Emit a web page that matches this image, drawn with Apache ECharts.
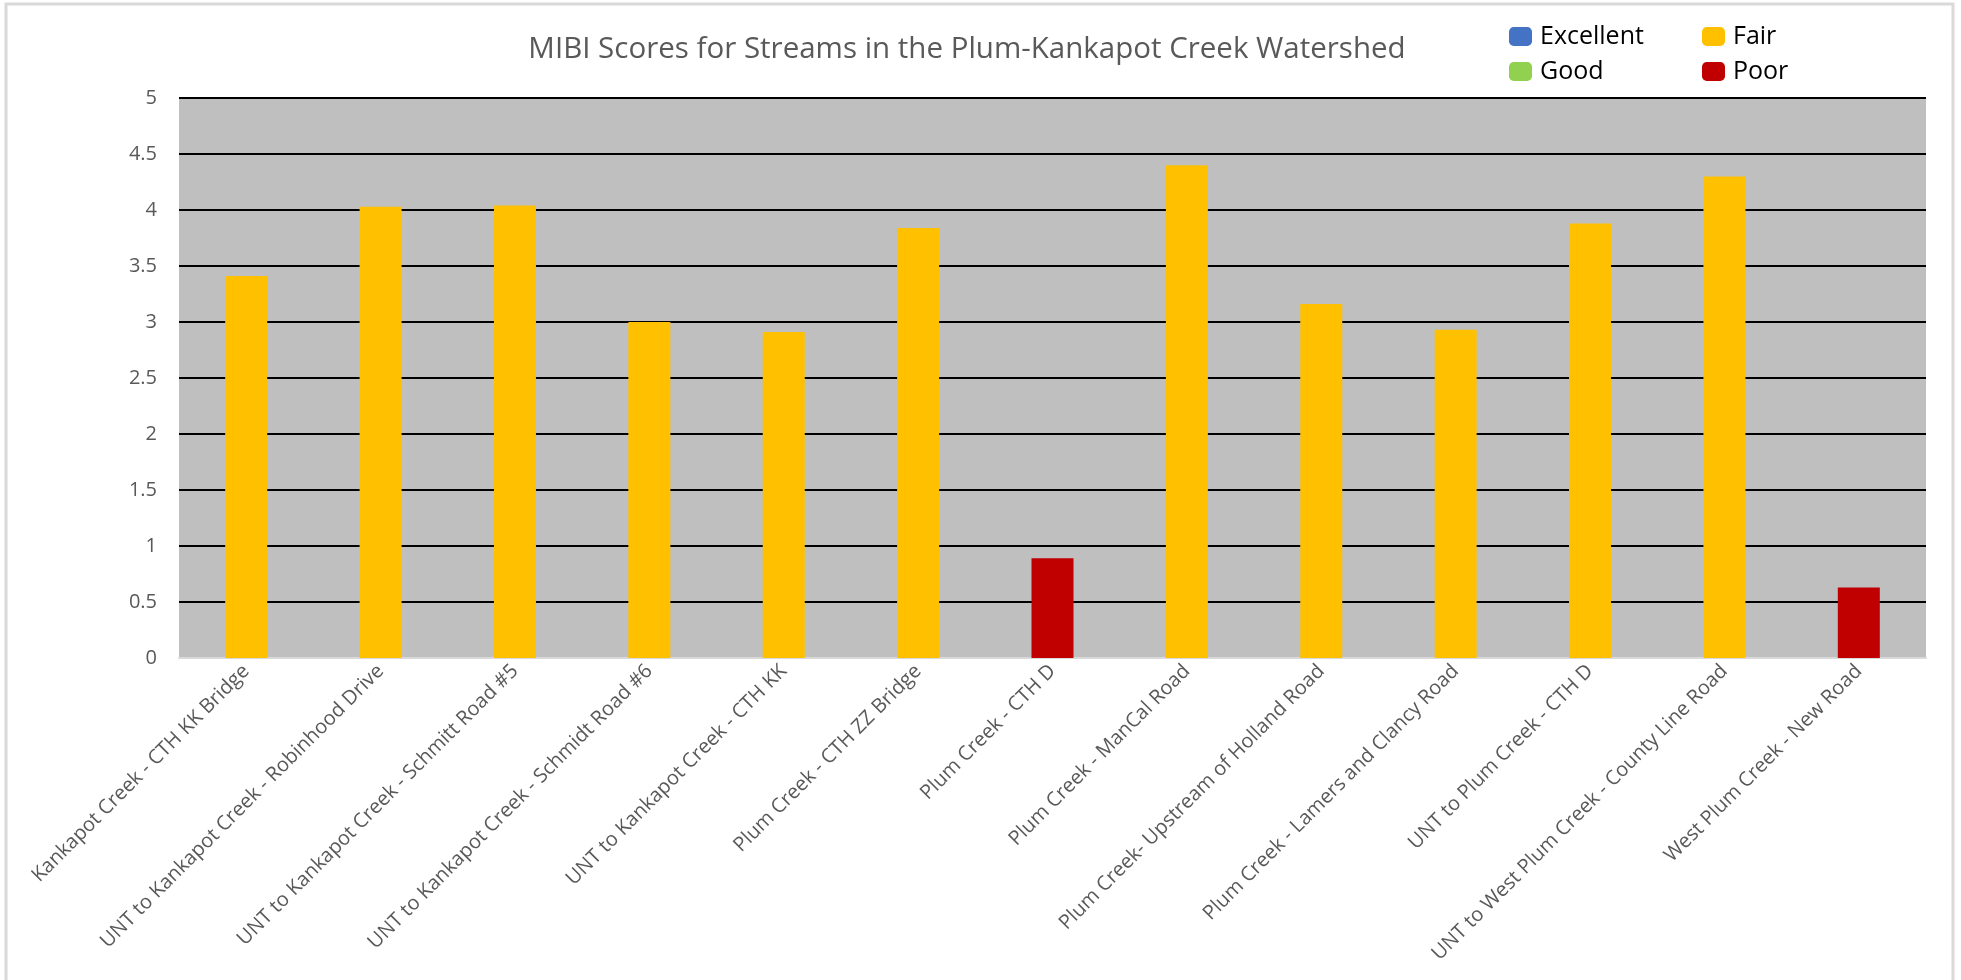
<!DOCTYPE html>
<html>
<head>
<meta charset="utf-8">
<title>MIBI Scores</title>
<script src="https://cdn.jsdelivr.net/npm/echarts@6/dist/echarts.min.js"></script>
<style>
  html, body { margin: 0; padding: 0; background: #fff; }
  #chart { width: 1961px; height: 980px; }
</style>
</head>
<body>
<div id="chart"></div>
<script>
// stream sites (x axis)
const sites = [
  "Kankapot Creek - CTH KK Bridge",
  "UNT to Kankapot Creek - Robinhood Drive",
  "UNT to Kankapot Creek - Schmitt Road #5",
  "UNT to Kankapot Creek - Schmidt Road #6",
  "UNT to Kankapot Creek - CTH KK",
  "Plum Creek - CTH ZZ Bridge",
  "Plum Creek - CTH D",
  "Plum Creek - ManCal Road",
  "Plum Creek- Upstream of Holland Road",
  "Plum Creek - Lamers and Clancy Road",
  "UNT to Plum Creek - CTH D",
  "UNT to West Plum Creek - County Line Road",
  "West Plum Creek - New Road"
];

// MIBI score per site
const scores = [3.41, 4.03, 4.04, 3.0, 2.91, 3.84, 0.89, 4.4, 3.16, 2.93, 3.88, 4.3, 0.63];

// rating class per site
const ratings = ["Fair", "Fair", "Fair", "Fair", "Fair", "Fair", "Poor", "Fair", "Fair", "Fair", "Fair", "Fair", "Poor"];

// legend classes and colours
const classes = ["Excellent", "Good", "Fair", "Poor"];
const classColors = ["#4472C4", "#92D050", "#FFC000", "#C00000"];

const chart = echarts.init(document.getElementById("chart"));

// one stacked series per class, so each bar gets its class colour
const series = classes.map((name, k) => ({
  name: name,
  type: "bar",
  stack: "score",
  barWidth: 42,
  itemStyle: { color: classColors[k] },
  data: scores.map((v, i) => (ratings[i] === name ? v : null))
}));

const legendText = { fontFamily: "Open Sans", fontSize: 25, color: "#000", padding: [0, 0, 0, 3] };

chart.setOption({
  animation: false,
  textStyle: { fontFamily: "Open Sans" },
  title: {
    text: "MIBI Scores for Streams in the Plum-Kankapot Creek Watershed",
    left: 962,
    textAlign: "center",
    top: 30,
    textStyle: { fontFamily: "Open Sans", fontSize: 29.5, fontWeight: "normal", color: "#595959" }
  },
  legend: [
    {
      data: ["Excellent", "Good"],
      orient: "vertical",
      left: 1504,
      top: 19,
      icon: "roundRect",
      itemWidth: 23,
      itemHeight: 19,
      itemGap: 10,
      textStyle: legendText
    },
    {
      data: ["Fair", "Poor"],
      orient: "vertical",
      left: 1697,
      top: 19,
      icon: "roundRect",
      itemWidth: 23,
      itemHeight: 19,
      itemGap: 10,
      textStyle: legendText
    }
  ],
  grid: {
    left: 179,
    right: 35,
    top: 98,
    bottom: 322,
    show: true,
    backgroundColor: "#BFBFBF",
    borderWidth: 0
  },
  xAxis: {
    type: "category",
    data: sites,
    axisLine: { lineStyle: { color: "#D9D9D9", width: 2 } },
    axisTick: { show: false },
    axisLabel: {
      interval: 0,
      rotate: 45,
      margin: 10,
      fontFamily: "Open Sans",
      fontSize: 20,
      color: "#595959"
    }
  },
  yAxis: {
    type: "value",
    min: 0,
    max: 5,
    interval: 0.5,
    axisLine: { show: false },
    axisTick: { show: false },
    axisLabel: { margin: 22, fontFamily: "Open Sans", fontSize: 20, color: "#595959" },
    splitLine: { lineStyle: { color: "#000", width: 2 } }
  },
  graphic: [
    {
      type: "rect",
      shape: { x: 6, y: 4, width: 1947, height: 990 },
      style: { fill: null, stroke: "#D9D9D9", lineWidth: 3 },
      silent: true
    }
  ],
  series: series
});
</script>
</body>
</html>
